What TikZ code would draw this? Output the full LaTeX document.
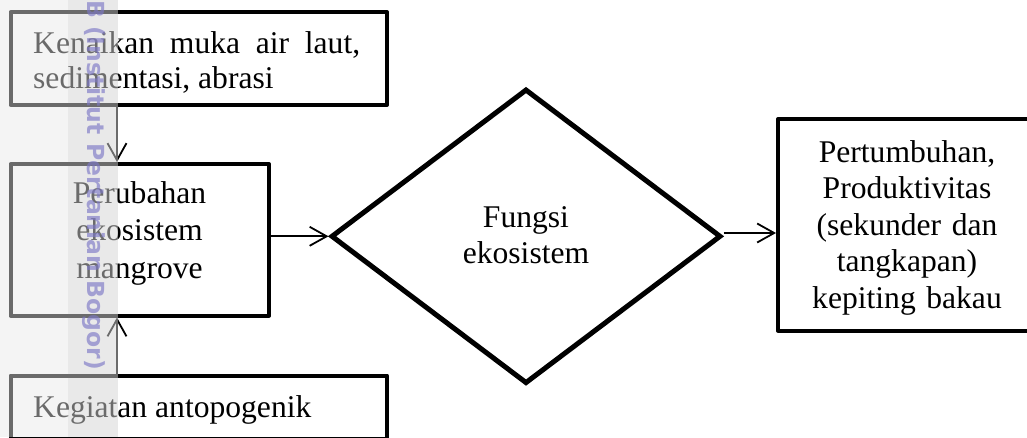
\documentclass[tikz,border=0pt]{standalone}
\usepackage{fontspec}
\setmainfont{Liberation Serif}
\newfontfamily\markfont{DejaVu Sans}
\usetikzlibrary{shapes.geometric,arrows.meta}
\definecolor{markink}{RGB}{125,120,198}
\tikzset{
  boxnode/.style={draw, rectangle, line width=4pt, inner sep=0pt, line join=round},
  decision/.style={draw, diamond, line width=5pt, inner sep=0pt},
  link/.style={line width=1.8pt, -{Straight Barb[length=17pt,width=19pt]}},
  bodytext/.style={inner sep=0pt, font=\fontsize{31.6}{36.5}\selectfont},
}
\begin{document}
\begin{tikzpicture}[x=1pt,y=-1pt]
  \fill[white] (0,0) rectangle (1027,437);
  \useasboundingbox (0,0) rectangle (1027,437);
  \clip (0,0) rectangle (1027,437);

  % boxes and the decision diamond
  \node[boxnode, minimum width=376.5pt, minimum height=93pt]   (b1) at (198.75,58.5) {};
  \node[boxnode, minimum width=258.5pt, minimum height=151.5pt] (b2) at (139.75,239.75) {};
  \node[boxnode, minimum width=376.5pt, minimum height=63pt]   (b3) at (198.75,407) {};
  \node[decision, minimum width=390pt, minimum height=294.6pt] (dia) at (526,236.3) {};
  \node[boxnode, minimum width=258pt, minimum height=211.5pt]  (b5) at (907,224.75) {};

  % texts
  \node[bodytext, anchor=base west, text width=327pt, align=justify,
        font=\fontsize{31.6}{35}\selectfont] (t1) at (33,53)
        {Kenaikan muka air laut,\linebreak sedimentasi, abrasi};
  \node[bodytext, anchor=base, text width=250pt, align=center,
        font=\fontsize{31.6}{37.5}\selectfont] (t2) at (139.5,203)
        {Perubahan\\ekosistem\\mangrove};
  \node[bodytext, anchor=base west] (t3) at (33,417) {Kegiatan antopogenik};
  \node[bodytext, anchor=base, text width=200pt, align=center,
        font=\fontsize{31.6}{36}\selectfont] (t4) at (526,227)
        {Fungsi\\ekosistem};
  \node[bodytext, anchor=base, text width=250pt, align=center] (t5) at (907,162)
        {Pertumbuhan,\\Produktivitas\\(sekunder dan\\tangkapan)\\kepiting bakau};

  % connectors
  \coordinate (ax) at (117,0);
  \coordinate (ay) at (0,233);
  \draw[link] (b1.south -| ax) -- (b2.north -| ax);
  \draw[link] (b3.north -| ax) -- (b2.south -| ax);
  \draw[link] (b2.east |- dia.west) -- (dia.west);
  \draw[link] (dia.east |- ay) -- (b5.west |- ay);

  % stamp along the left edge
  \fill[black!8.7, opacity=0.46] (0,0) rectangle (68,437);
  \fill[black!17, opacity=0.505] (68,0) rectangle (118,437);
  \node[rotate=-90, anchor=base east, inner sep=0pt, text=markink, opacity=0.65,
        font=\markfont\bfseries\fontsize{23.5}{23.5}\selectfont] (mark) at (87,370)
        {IPB (Institut Pertanian Bogor)};
\end{tikzpicture}
\end{document}
